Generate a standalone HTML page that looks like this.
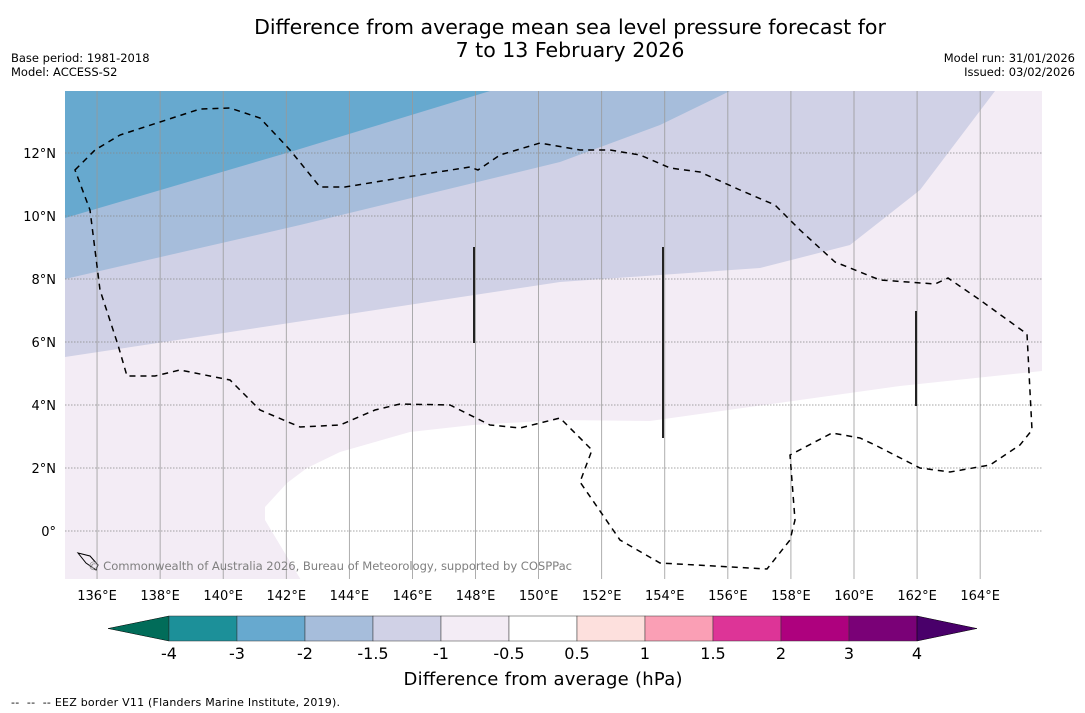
<!DOCTYPE html>
<html><head><meta charset="utf-8"><style>
body{margin:0;background:#fff;font-family:"Liberation Sans","DejaVu Sans",sans-serif;}
svg{display:block}
text{font-family:"DejaVu Sans","Liberation Sans",sans-serif}
</style></head><body>
<svg width="1085" height="713" viewBox="0 0 1085 713">
<text x="570" y="34" font-size="20.5" text-anchor="middle">Difference from average mean sea level pressure forecast for</text>
<text x="570" y="57" font-size="20.5" text-anchor="middle">7 to 13 February 2026</text>
<text x="11" y="62" font-size="11.5">Base period: 1981-2018</text>
<text x="11" y="76" font-size="11.5">Model: ACCESS-S2</text>
<text x="1075" y="62" font-size="11.5" text-anchor="end">Model run: 31/01/2026</text>
<text x="1075" y="76" font-size="11.5" text-anchor="end">Issued: 03/02/2026</text>
<defs><clipPath id="mc"><rect x="65" y="91" width="977" height="488"/></clipPath></defs>
<g clip-path="url(#mc)">
<rect x="65" y="91" width="977" height="488" fill="#f3ecf5"/>
<path d="M301,580 L265,520 L265,507 L287,483 L307,468 L340,452 L410,432 L473,425 L560,420 L650,421 L800,400 L900,386 L1042,371 L1042,580 Z" fill="#ffffff"/>
<path d="M65,357 L560,282 L760,268 L850,245 L920,190 L995,91 L65,91 Z" fill="#d0d1e6"/>
<path d="M65,279 L300,225 L560,162 L660,125 L730,91 L65,91 Z" fill="#a6bddb"/>
<path d="M65,218 L290,152 L490,91 L65,91 Z" fill="#67a9cf"/>
<g id="grid"></g>
<path d="M75,170 L95,150 L120,135 L160,122 L200,109 L230,108 L260,118 L290,150 L320,187 L345,187 L400,178 L470,167 L478,170 L500,155 L540,143 L580,150 L610,150 L640,155 L670,168 L700,172 L740,190 L775,205 L800,230 L835,262 L880,280 L935,284 L948,278 L980,300 L1027,334 L1032,430 L1020,445 L990,465 L950,472 L920,468 L875,445 L860,438 L832,433 L790,455 L795,520 L790,540 L767,569 L660,563 L620,540 L580,482 L592,450 L560,418 L520,428 L490,425 L450,405 L400,404 L375,410 L340,425 L300,427 L260,410 L230,380 L180,370 L155,376 L127,376 L118,345 L100,290 L95,250 L90,210 Z" fill="none" stroke="#000" stroke-width="1.5" stroke-dasharray="6,5"/>
<g stroke="#222" stroke-width="2">
<line x1="474" y1="247" x2="474" y2="343"/><line x1="663" y1="247" x2="663" y2="438"/><line x1="916" y1="311" x2="916" y2="406"/></g>
<path d="M78,553 L90,556 L98,565 L96,570 L86,563 Z" fill="none" stroke="#000"/>
<text x="88" y="570" font-size="11.6" fill="#808080" textLength="484">© Commonwealth of Australia 2026, Bureau of Meteorology, supported by COSPPac</text>
</g>
<g id="axes"></g>
<g id="cbar"></g>
<text x="543" y="685" font-size="18" text-anchor="middle" textLength="279">Difference from average (hPa)</text>
<text x="11" y="706" font-size="11" textLength="329">--&#160;&#160;--&#160;&#160;-- EEZ border V11 (Flanders Marine Institute, 2019).</text>
</svg>
<script>
const lonTicks=[136,138,140,142,144,146,148,150,152,154,156,158,160,162,164];
const latTicks=[0,2,4,6,8,10,12];
const levelLabels=["-4","-3","-2","-1.5","-1","-0.5","0.5","1","1.5","2","3","4"];
const binColors=["#1c9099","#67a9cf","#a6bddb","#d0d1e6","#f3ecf5","#ffffff","#fde0dd","#fa9fb5","#dd3497","#ae017e","#7a0177"];
const underColor="#016c59", overColor="#49006a";
const NS="http://www.w3.org/2000/svg";
const lonX=l=>65.5+(l-135)*31.54, latY=a=>531-a*31.5;
function mk(t,attrs,parent){const e=document.createElementNS(NS,t);for(const k in attrs)e.setAttribute(k,attrs[k]);parent.appendChild(e);return e;}
const grid=document.getElementById('grid'),axes=document.getElementById('axes'),cbar=document.getElementById('cbar');
lonTicks.forEach(l=>{const x=lonX(l);
 const g=mk('line',{x1:x,y1:91,x2:x,y2:579,stroke:'#999','stroke-width':0.8},grid);
 
 
 const t=mk('text',{x:x,y:600,'font-size':13,'text-anchor':'middle'},axes);t.textContent=l+'°E';
 
 });
latTicks.forEach(a=>{const y=latY(a);
 const g=mk('line',{x1:65,y1:y,x2:1042,y2:y,stroke:'#888','stroke-width':0.8,'stroke-dasharray':'1.5,1.5'},grid);
 
 
 const t=mk('text',{x:56,y:y+5,'font-size':13,'text-anchor':'end'},axes);t.textContent=a===0?'0°':a+'°N';
 
 });
const cx0=169,cw=68.0,cy=616,ch=25;
const u=mk('polygon',{points:`${cx0},${cy} 108,${cy+ch/2} ${cx0},${cy+ch}`,fill:underColor,stroke:'#000','stroke-width':0.5},cbar);


binColors.forEach((c,i)=>{const r=mk('rect',{x:cx0+i*cw,y:cy,width:cw,height:ch,fill:c,stroke:'#333','stroke-width':0.5},cbar);
 
 });
const xe=cx0+binColors.length*cw;
const o=mk('polygon',{points:`${xe},${cy} 977,${cy+ch/2} ${xe},${cy+ch}`,fill:overColor,stroke:'#000','stroke-width':0.5},cbar);


levelLabels.forEach((s,i)=>{const t=mk('text',{x:cx0+i*cw,y:659,'font-size':16,'text-anchor':'middle'},cbar);t.textContent=s;
 
 });
</script>
</body></html>
